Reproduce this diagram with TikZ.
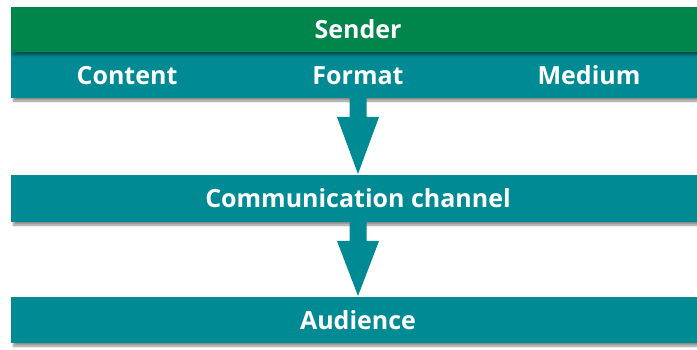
\documentclass[tikz,border=0pt]{standalone}
\usepackage{fontspec}
\setmainfont{Open Sans}
\usetikzlibrary{shadows,shadows.blur}
\definecolor{sgreen}{RGB}{0,133,75}
\definecolor{steal}{RGB}{0,138,148}
\tikzset{
  bar/.style={fill=#1, draw=none, blur shadow={shadow xshift=2.5pt, shadow yshift=-3pt, shadow blur steps=6, shadow opacity=45}},
  lbl/.style={text=white, font=\fontsize{25}{28}\selectfont\bfseries, inner sep=0pt, anchor=base},
  flow/.style={fill=steal, draw=none},
}
\begin{document}
\begin{tikzpicture}[x=1pt,y=-1pt]
\useasboundingbox (0,0) rectangle (697,350);
% bars
\path[bar=steal] (11,52) rectangle (702,98);
\path[bar=sgreen] (11,7) rectangle (702,52);
\path[bar=steal] (11,175) rectangle (702,222);
\path[bar=steal] (11,297) rectangle (702,343);
% labels (placed on their baselines)
\node[lbl] (sender) at (358,39) {Sender};
\node[lbl] (content) at (127,85) {Content};
\node[lbl] (format) at (358,85) {Format};
\node[lbl] (medium) at (589,85) {Medium};
\node[lbl] (channel) at (358,208) {Communication channel};
\node[lbl] (audience) at (358,330) {Audience};
% block arrows between the layers
\coordinate (a1) at (358,98);
\coordinate (a2) at (358,222);
\foreach \c/\tip in {a1/174, a2/296}{
  \path[flow] ([xshift=-8.5]\c) -- ([xshift=8.5]\c) -- ([xshift=8.5,yshift=-19]\c)
    -- ([xshift=21,yshift=-19]\c) -- (358,\tip) -- ([xshift=-21,yshift=-19]\c)
    -- ([xshift=-8.5,yshift=-19]\c) -- cycle;
}
\end{tikzpicture}
\end{document}
